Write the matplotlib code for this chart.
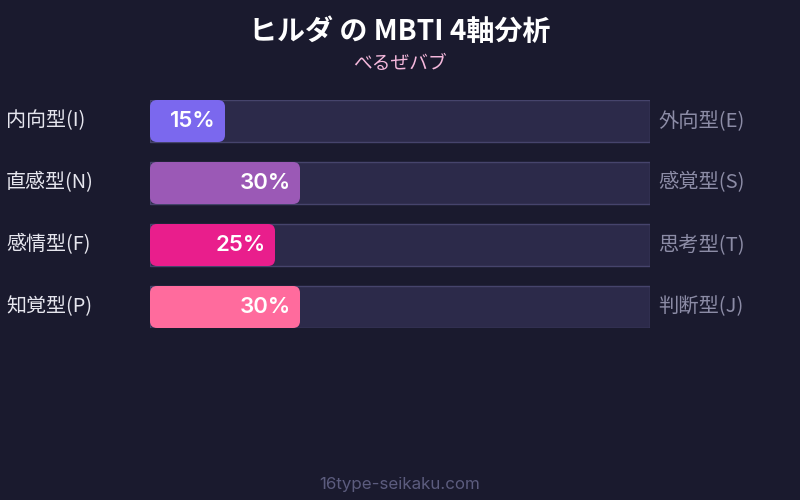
import matplotlib

matplotlib.use("Agg")
import matplotlib.pyplot as plt
from matplotlib.patches import FancyBboxPatch, Rectangle

plt.rcParams["font.family"] = ["Noto Sans CJK JP", "DejaVu Sans"]

BG = "#1a1a2e"
TRACK = "#2c2a4a"
TRACK_EDGE = "#46446c"

title = "ヒルダ の MBTI 4軸分析"
subtitle = "べるぜバブ"
footer = "16type-seikaku.com"

left_labels = ["内向型(I)", "直感型(N)", "感情型(F)", "知覚型(P)"]
right_labels = ["外向型(E)", "感覚型(S)", "思考型(T)", "判断型(J)"]
values = [15, 30, 25, 30]
colors = ["#7b68ee", "#9b59b6", "#e91e8c", "#ff6b9d"]

W, H = 800, 500
fig = plt.figure(figsize=(W / 100, H / 100), dpi=100, facecolor=BG)

# bar area: x 150..650 px, y 100..328 px
bar_h = 42 / 62
ax = fig.add_axes([150 / W, 1 - 328 / H, 500 / W, 228 / H])
ax.set_xlim(0, 100)
ax.set_ylim(len(values) - 1 + bar_h / 2, -bar_h / 2)
ax.axis("off")
ax.set_facecolor("none")

aspect = (500 / 100) / 62  # px per x-unit / px per y-unit
for i, (v, c) in enumerate(zip(values, colors)):
    ax.add_patch(Rectangle((0, i - bar_h / 2), 100, bar_h, facecolor=TRACK,
                           edgecolor=TRACK_EDGE, lw=1))
    ax.add_patch(FancyBboxPatch((0, i - bar_h / 2), v, bar_h,
                                boxstyle="round,pad=0,rounding_size=1.4",
                                mutation_aspect=aspect, facecolor=c,
                                edgecolor="none"))
    ax.text(v - 1.8, i, f"{v}%", ha="right", va="center", color="white",
            fontsize=16, fontweight="semibold", family=["Inter", "DejaVu Sans"])
    ax.text(-28.8, i, left_labels[i], ha="left", va="center", color="#e6e6ee",
            fontsize=14.4)
    ax.text(101.6, i, right_labels[i], ha="left", va="center", color="#8c8ca6",
            fontsize=14.6)

fig.text(0.5, 1 - 32 / H, title, ha="center", va="center", color="white",
         fontsize=20.2, fontweight="bold")
fig.text(0.5, 1 - 63 / H, subtitle, ha="center", va="center", color="#f5b8dc",
         fontsize=13.5)
fig.text(0.5, 1 - 485 / H, footer, ha="center", va="center", color="#5c5c7e",
         fontsize=12.2, family=["Inter", "DejaVu Sans"])

fig.savefig("out.png", dpi=100, facecolor=BG)
